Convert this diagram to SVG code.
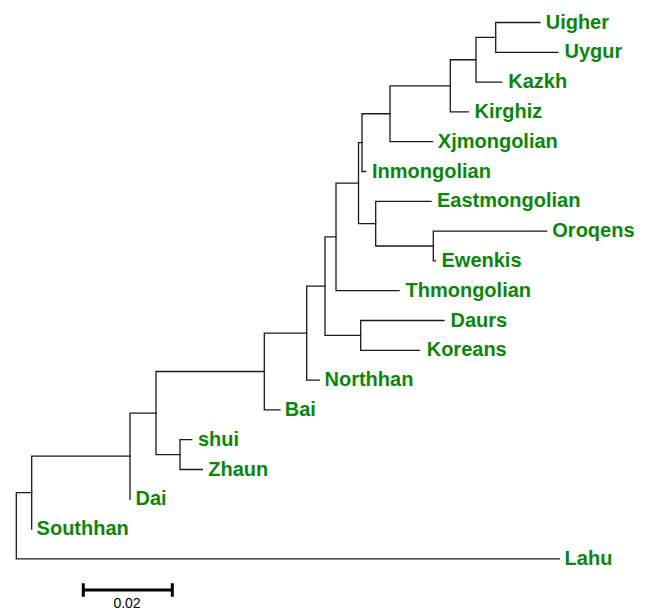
<svg xmlns="http://www.w3.org/2000/svg" width="646" height="610" viewBox="0 0 646 610">
<style>
.e{fill:none;stroke:#1a1a1a;stroke-width:1.3;stroke-linecap:square}
.t{font-family:"Liberation Sans",Arial,sans-serif;font-weight:bold;font-size:20px;fill:#0a870a}
.s{fill:none;stroke:#000;stroke-width:3}
.sl{font-family:"Liberation Sans",Arial,sans-serif;font-size:14px;fill:#000}
</style>
<rect width="646" height="610" fill="#fff"/>
<g id="connectors">
<path class="e" d="M16.3,492.65V558.9H559.3M16.3,492.65H31.7"/>
<path class="e" d="M31.7,456.2V529.1M31.7,456.2H130"/>
<path class="e" d="M130,413.05V499.3M130,413.05H156"/>
<path class="e" d="M156,371.5V454.6M156,371.5H264.3M156,454.6H180"/>
<path class="e" d="M180,439.7V469.5M180,439.7H191.7M180,469.5H202.3"/>
<path class="e" d="M264.3,333.1V409.9H280M264.3,333.1H306.7"/>
<path class="e" d="M306.7,286.15V380.1H319.3M306.7,286.15H325"/>
<path class="e" d="M325,236.9V335.4H360.7M325,236.9H336"/>
<path class="e" d="M360.7,320.5V350.3M360.7,320.5H444M360.7,350.3H419.3"/>
<path class="e" d="M336,183.1V290.7H399M336,183.1H358.5"/>
<path class="e" d="M358.5,142.6V223.65H375.7M358.5,142.6H362"/>
<path class="e" d="M375.7,201.3V246H433.3M375.7,201.3H431"/>
<path class="e" d="M433.3,231.1V260.9H435.5M433.3,231.1H546.7"/>
<path class="e" d="M362,113.75V171.5H365.7M362,113.75H390"/>
<path class="e" d="M390,85.8V141.7H432.3M390,85.8H450.3"/>
<path class="e" d="M450.3,59.75V111.9H468.3M450.3,59.75H476"/>
<path class="e" d="M476,37.4V82.1H501.7M476,37.4H495.7"/>
<path class="e" d="M495.7,22.5V52.3H558M495.7,22.5H540"/>
</g>
<g id="n-uigher"><text class="t" x="545.7" y="28.5">Uigher</text></g>
<g id="n-uygur"><text class="t" x="564.5" y="58.3">Uygur</text></g>
<g id="n-kazkh"><text class="t" x="508.2" y="88.1">Kazkh</text></g>
<g id="n-kirghiz"><text class="t" x="474.5" y="117.9">Kirghiz</text></g>
<g id="n-xjmongolian"><text class="t" x="437.8" y="147.7">Xjmongolian</text></g>
<g id="n-inmongolian"><text class="t" x="372" y="177.5">Inmongolian</text></g>
<g id="n-eastmongolian"><text class="t" x="437" y="207.3">Eastmongolian</text></g>
<g id="n-oroqens"><text class="t" x="552.3" y="237.1">Oroqens</text></g>
<g id="n-ewenkis"><text class="t" x="441.5" y="266.9">Ewenkis</text></g>
<g id="n-thmongolian"><text class="t" x="405.5" y="296.7">Thmongolian</text></g>
<g id="n-daurs"><text class="t" x="450.5" y="326.5">Daurs</text></g>
<g id="n-koreans"><text class="t" x="426.7" y="356.3">Koreans</text></g>
<g id="n-northhan"><text class="t" x="324.5" y="386.1">Northhan</text></g>
<g id="n-bai"><text class="t" x="284.8" y="415.9">Bai</text></g>
<g id="n-shui"><text class="t" x="198" y="445.7">shui</text></g>
<g id="n-zhaun"><text class="t" x="208.3" y="475.5">Zhaun</text></g>
<g id="n-dai"><text class="t" x="135.5" y="505.3">Dai</text></g>
<g id="n-southhan"><text class="t" x="36.6" y="535.1">Southhan</text></g>
<g id="n-lahu"><text class="t" x="564.6" y="564.9">Lahu</text></g>
<g id="scale">
<path class="s" d="M83.3,590H172.3M83.3,583.3V596.7M172.3,583.3V596.7"/>
<text class="sl" x="127" y="607.5" text-anchor="middle">0.02</text>
</g>
</svg>
